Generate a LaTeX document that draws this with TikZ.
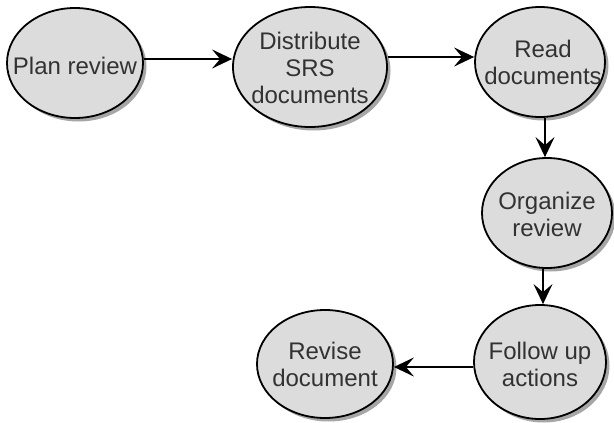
\documentclass[tikz,border=0pt]{standalone}
\usepackage{fontspec}
\setmainfont{Liberation Sans}
\usetikzlibrary{shapes.geometric,shadows,arrows.meta}
\definecolor{stagefill}{RGB}{220,220,220}
\definecolor{stagetext}{RGB}{50,50,50}
\tikzset{
  stage/.style={ellipse, draw=black, line width=1.8pt, fill=stagefill,
    inner sep=0pt,
    drop shadow={shadow xshift=3.5pt, shadow yshift=-3.5pt, fill=black!50, opacity=.7}},
  stagetext/.style={inner sep=0pt, align=center, text=stagetext,
    font=\fontsize{24}{27}\selectfont},
  flow/.style={line width=2.2pt, -{Stealth[length=20pt,width=19pt,inset=8pt]}}
}
\begin{document}
\begin{tikzpicture}[x=1pt,y=-1pt]
  \useasboundingbox (0,0) rectangle (614,423);
  % stages (fixed-size ellipses; the labels may run over their rims)
  \node[stage, minimum width=136pt, minimum height=110pt] (plan) at (75,63) {};
  \node[stage, minimum width=154pt, minimum height=120pt] (dist) at (310,67) {};
  \node[stage, minimum width=130pt, minimum height=110pt] (read) at (540,62) {};
  \node[stage, minimum width=130pt, minimum height=110pt] (org) at (547,213) {};
  \node[stage, minimum width=132pt, minimum height=114pt] (follow) at (540,362) {};
  \node[stage, minimum width=136pt, minimum height=108pt] (revise) at (325,364) {};
  % stage captions
  \node[stagetext] (plan-t) at (75,66) {Plan review};
  \node[stagetext] (dist-t) at (310,68) {Distribute\\SRS\\documents};
  \node[stagetext] (read-t) at (543,62) {Read\\documents};
  \node[stagetext] (org-t) at (547,214) {Organize\\review};
  \node[stagetext] (follow-t) at (540,364) {Follow up\\actions};
  \node[stagetext] (revise-t) at (325,364) {Revise\\document};
  % flow between stages
  \draw[flow] (plan.east |- 0,59) -- (dist.west |- 0,59);
  \draw[flow] (dist.east |- 0,57) -- (read.west |- 0,57);
  \draw[flow] (read.south -| 545,0) -- (org.north -| 545,0);
  \draw[flow] (org.south -| 543,0) -- (follow.north -| 543,0);
  \draw[flow] (follow.west |- 0,367) -- (revise.east |- 0,367);
\end{tikzpicture}
\end{document}
